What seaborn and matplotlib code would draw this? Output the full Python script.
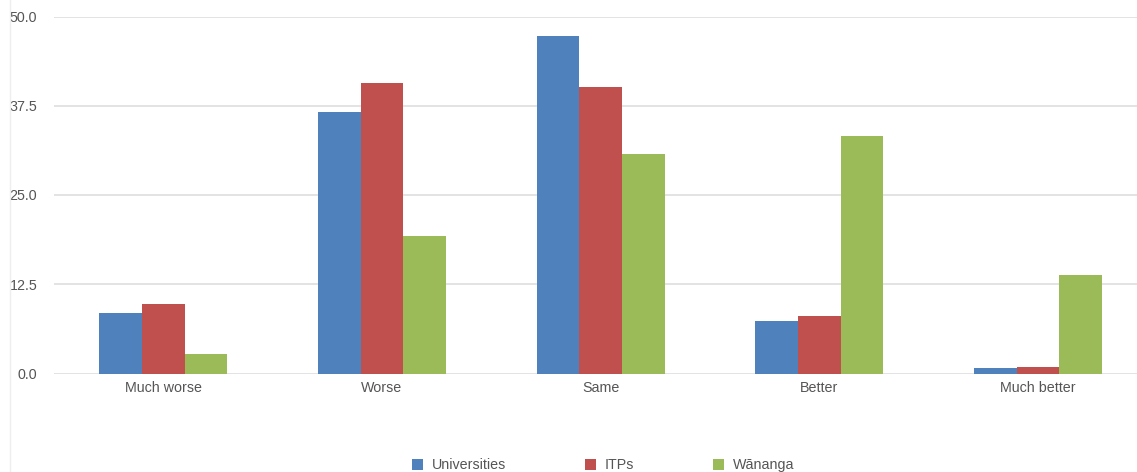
import matplotlib
matplotlib.use("Agg")
import matplotlib.pyplot as plt
from matplotlib.patches import Patch
from matplotlib.lines import Line2D
import seaborn as sns
import pandas as pd

categories = ["Much worse", "Worse", "Same", "Better", "Much better"]
groups = ["Universities", "ITPs", "Wānanga"]
universities = [8.5, 36.6, 47.3, 7.3, 0.8]
itps = [9.8, 40.7, 40.1, 8.1, 0.9]
wananga = [2.8, 19.2, 30.8, 33.2, 13.8]
colors = ["#4F81BD", "#C0504D", "#9BBB59"]
yticks = [0.0, 12.5, 25.0, 37.5, 50.0]

df = pd.DataFrame({
    "category": categories * 3,
    "group": [g for g in groups for _ in categories],
    "value": universities + itps + wananga,
})

sns.set_theme(style="white")
plt.rcParams["font.family"] = ["Liberation Sans", "DejaVu Sans"]

W, H = 1137, 472
fig = plt.figure(figsize=(W / 100, H / 100), dpi=100)
left, right = 54, 1137
top, bottom = 16.5, 373.5
ax = fig.add_axes([left / W, 1 - bottom / H, (right - left) / W, (bottom - top) / H])

sns.barplot(data=df, x="category", y="value", hue="group", order=categories,
            hue_order=groups, palette=colors, saturation=1, width=0.585,
            linewidth=0, edgecolor="none", legend=False, ax=ax, errorbar=None)

band = 218.7
ax.set_xlim(-0.5, -0.5 + (right - left) / band)
ax.set_ylim(0, 50)
ax.set_yticks(yticks)
ax.set_yticklabels([f"{v:.1f}" for v in yticks])
ax.set_xlabel("")
ax.set_ylabel("")
for s in ax.spines.values():
    s.set_visible(False)
ax.grid(axis="y", color="#dedede", linewidth=1.2)
ax.set_axisbelow(True)
ax.tick_params(axis="y", length=0, pad=12, labelsize=10.3, labelcolor="#555555")
ax.tick_params(axis="x", length=0, pad=5.5, labelsize=10.3, labelcolor="#555555")

# faint container edge on the left
fig.add_artist(Line2D([10 / W, 10 / W], [0, 1], transform=fig.transFigure,
                      color="#eeeeee", linewidth=1))

handles = [Patch(facecolor=c, edgecolor="none", label=g) for g, c in zip(groups, colors)]
fig.legend(handles=handles, loc="center", bbox_to_anchor=(603 / W, 1 - 465 / H),
           ncol=3, frameon=False, fontsize=10.3, handlelength=0.8, handleheight=0.8,
           handletextpad=0.6, columnspacing=5.5, labelcolor="#555555")

fig.savefig("out.png", dpi=100, facecolor="white")
